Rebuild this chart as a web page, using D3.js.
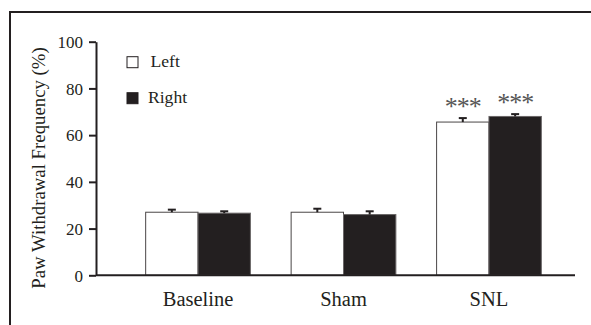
<!DOCTYPE html>
<html>
<head>
<meta charset="utf-8">
<script src="https://cdn.jsdelivr.net/npm/d3@7"></script>
<style>
  html, body { margin: 0; padding: 0; background: #fff; }
  svg text { font-family: "Liberation Serif", "Times New Roman", Times, "DejaVu Serif", serif; }
</style>
</head>
<body>
<svg id="chart" width="591" height="325"></svg>
<script>
// Paw withdrawal frequency by group, left vs right paw (mean ± SEM)
const groups = ["Baseline", "Sham", "SNL"];
const sides = ["Left", "Right"];
const leftMean = [27.0, 27.0, 65.6];
const leftSem = [1.1, 1.5, 1.7];
const rightMean = [26.6, 26.0, 68.0];
const rightSem = [0.8, 1.4, 1.0];
const significance = ["", "", "***"];
const yTicks = [0, 20, 40, 60, 80, 100];

const ink = "#231f20";
const fills = { Left: "#ffffff", Right: ink };

const svg = d3.select("#chart");

// figure frame (top and left edges)
svg.append("path")
  .attr("d", "M10,325V12H591")
  .attr("fill", "none")
  .attr("stroke", ink)
  .attr("stroke-width", 2);

const plot = { left: 96, right: 575, top: 41.7, bottom: 275.3 };

const y = d3.scaleLinear().domain([0, 100]).range([plot.bottom, plot.top]);
const x = d3.scaleBand().domain(groups).range([125.3, 561.7]).paddingInner(0).paddingOuter(0);
const barW = x.bandwidth() * 0.36;
const xSide = d3.scaleOrdinal().domain(sides).range([-barW, 0]);

const rows = [];
groups.forEach((g, i) => {
  rows.push({ group: g, side: "Left", mean: leftMean[i], sem: leftSem[i], sig: significance[i] });
  rows.push({ group: g, side: "Right", mean: rightMean[i], sem: rightSem[i], sig: significance[i] });
});
const cx = d => x(d.group) + x.bandwidth() / 2 + xSide(d.side);

// bars
svg.append("g").selectAll("rect").data(rows).join("rect")
  .attr("x", d => cx(d))
  .attr("y", d => y(d.mean))
  .attr("width", barW)
  .attr("height", d => y(0) - y(d.mean))
  .attr("fill", d => fills[d.side])
  .attr("stroke", d => d.side === "Left" ? "#4a4647" : "#6a6667")
  .attr("stroke-width", 1);

// error bars (upper half only)
const eb = svg.append("g").attr("stroke", ink).attr("stroke-width", 2);
eb.selectAll("line.v").data(rows).join("line").attr("class", "v")
  .attr("x1", d => cx(d) + barW / 2).attr("x2", d => cx(d) + barW / 2)
  .attr("y1", d => y(d.mean)).attr("y2", d => y(d.mean + d.sem));
eb.selectAll("line.c").data(rows).join("line").attr("class", "c")
  .attr("x1", d => cx(d) + barW / 2 - 4).attr("x2", d => cx(d) + barW / 2 + 4)
  .attr("y1", d => y(d.mean + d.sem)).attr("y2", d => y(d.mean + d.sem));

// significance markers
svg.append("g").selectAll("text").data(rows.filter(d => d.sig)).join("text")
  .attr("x", d => cx(d) + barW / 2)
  .attr("y", d => y(d.mean + d.sem) - 3)
  .attr("text-anchor", "middle")
  .attr("font-size", 26)
  .attr("letter-spacing", -1)
  .attr("fill", "#555")
  .text(d => d.sig);

// y axis
const yAxis = svg.append("g")
  .attr("transform", `translate(${plot.left},0)`)
  .call(d3.axisLeft(y).tickValues(yTicks).tickSize(7).tickPadding(6).tickSizeOuter(0))
  .attr("font-family", null);
yAxis.select(".domain").attr("stroke", ink).attr("stroke-width", 2);
yAxis.selectAll(".tick line").attr("stroke", ink).attr("stroke-width", 2);
yAxis.selectAll(".tick text").attr("fill", ink).attr("font-size", 17).attr("dy", "0.34em");

// x axis baseline and category labels
svg.append("line")
  .attr("x1", plot.left).attr("x2", plot.right)
  .attr("y1", y(0)).attr("y2", y(0))
  .attr("stroke", ink).attr("stroke-width", 2);
svg.append("g").selectAll("text").data(groups).join("text")
  .attr("x", g => x(g) + x.bandwidth() / 2)
  .attr("y", 306)
  .attr("text-anchor", "middle")
  .attr("font-size", 20.5)
  .attr("fill", ink)
  .text(g => g);

// y axis title
svg.append("text")
  .attr("transform", "translate(45,168) rotate(-90)")
  .attr("text-anchor", "middle")
  .attr("font-size", 18.8)
  .attr("fill", ink)
  .text("Paw Withdrawal Frequency (%)");

// legend
const legend = svg.append("g");
sides.forEach((s, i) => {
  const ly = 56.7 + i * 36;
  legend.append("rect")
    .attr("x", 127).attr("y", ly).attr("width", 11).attr("height", 11)
    .attr("fill", fills[s]).attr("stroke", ink).attr("stroke-width", 1);
  legend.append("text")
    .attr("x", s === "Left" ? 150.5 : 148).attr("y", ly + 10)
    .attr("font-size", 17.6).attr("fill", ink)
    .text(s);
});
</script>
</body>
</html>
